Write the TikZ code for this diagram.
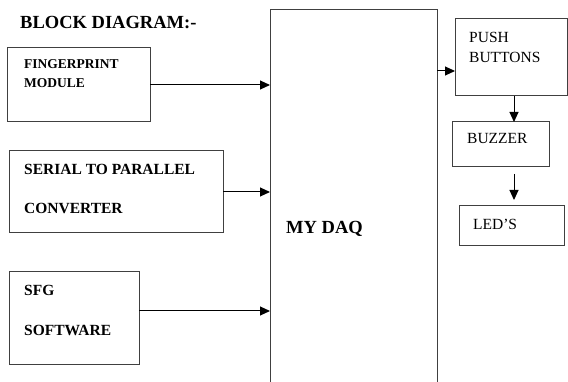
\documentclass[tikz,border=0pt]{standalone}
\usepackage{fontspec}
\setmainfont{Liberation Serif}
\usetikzlibrary{arrows.meta,calc}
\tikzset{
  box/.style={draw=black!75, line width=1pt, inner sep=0pt, outer sep=0pt, anchor=north west},
  arr/.style={draw=black, line width=1pt, -{Triangle[length=10pt,width=9pt]}},
  lbl/.style={anchor=base west, inner sep=0pt, font=\bfseries\fontsize{15.5}{18}\selectfont},
  lblsmall/.style={anchor=base west, inner sep=0pt, font=\bfseries\fontsize{13.5}{16}\selectfont},
  lblreg/.style={anchor=base west, inner sep=0pt, font=\fontsize{15.5}{18}\selectfont},
}
\begin{document}
\begin{tikzpicture}[x=1pt,y=-1pt]
\useasboundingbox (0,0) rectangle (568,382);
% boxes
\node[box, minimum width=143pt, minimum height=74pt] (fp) at (7,48) {};
\node[box, minimum width=214pt, minimum height=82pt] (sp) at (9,151) {};
\node[box, minimum width=130pt, minimum height=92pt] (sfg) at (9,272) {};
\node[box, draw=none, minimum width=167pt, minimum height=374pt] (daq) at (270,10) {};
\draw[black!75, line width=1pt] (daq.south west) -- (daq.north west) -- (daq.north east) -- (daq.south east);
\node[box, minimum width=112pt, minimum height=77pt] (pb) at (455,19) {};
\node[box, minimum width=97pt, minimum height=45pt] (bz) at (452,122) {};
\node[box, minimum width=105pt, minimum height=40pt] (led) at (459,206) {};
% texts
\node[anchor=base west, inner sep=0pt, font=\bfseries\fontsize{18.5}{22}\selectfont] (title) at (20,28.3) {BLOCK DIAGRAM:-};
\node[lblsmall] (fpt1) at (24,68.5) {FINGERPRINT};
\node[lblsmall] (fpt2) at (24,87.5) {MODULE};
\node[lbl] (spt1) at (24,174.5) {SERIAL TO PARALLEL};
\node[lbl] (spt2) at (24,213.5) {CONVERTER};
\node[lbl] (sfgt1) at (24,296) {SFG};
\node[lbl] (sfgt2) at (24,335) {SOFTWARE};
\node[anchor=base west, inner sep=0pt, font=\bfseries\fontsize{18.5}{22}\selectfont] (daqt) at (286,234) {MY DAQ};
\node[lblreg] (pbt1) at (469,42.5) {PUSH};
\node[lblreg] (pbt2) at (469,63) {BUTTONS};
\node[lblreg] (bzt) at (467,144) {BUZZER};
\node[lblreg] (ledt) at (473,230) {LED’S};
% connectors
\draw[arr] (fp.east) -- (fp.east -| daq.west);
\draw[arr] (sp.east) -- (sp.east -| daq.west);
\draw[arr] ([yshift=7pt]sfg.east) -- ([yshift=7pt]sfg.east -| daq.west);
\draw[arr] ([yshift=-13.5pt]pb.west -| daq.east) -- ([yshift=-13.5pt]pb.west);
\draw[arr] ([xshift=3pt]pb.south) -- ([xshift=3pt]pb.south |- bz.north);
\draw[arr, shorten <=7pt, shorten >=6pt] ([xshift=3pt]pb.south |- bz.south) -- ([xshift=3pt]pb.south |- led.north);
\end{tikzpicture}
\end{document}
